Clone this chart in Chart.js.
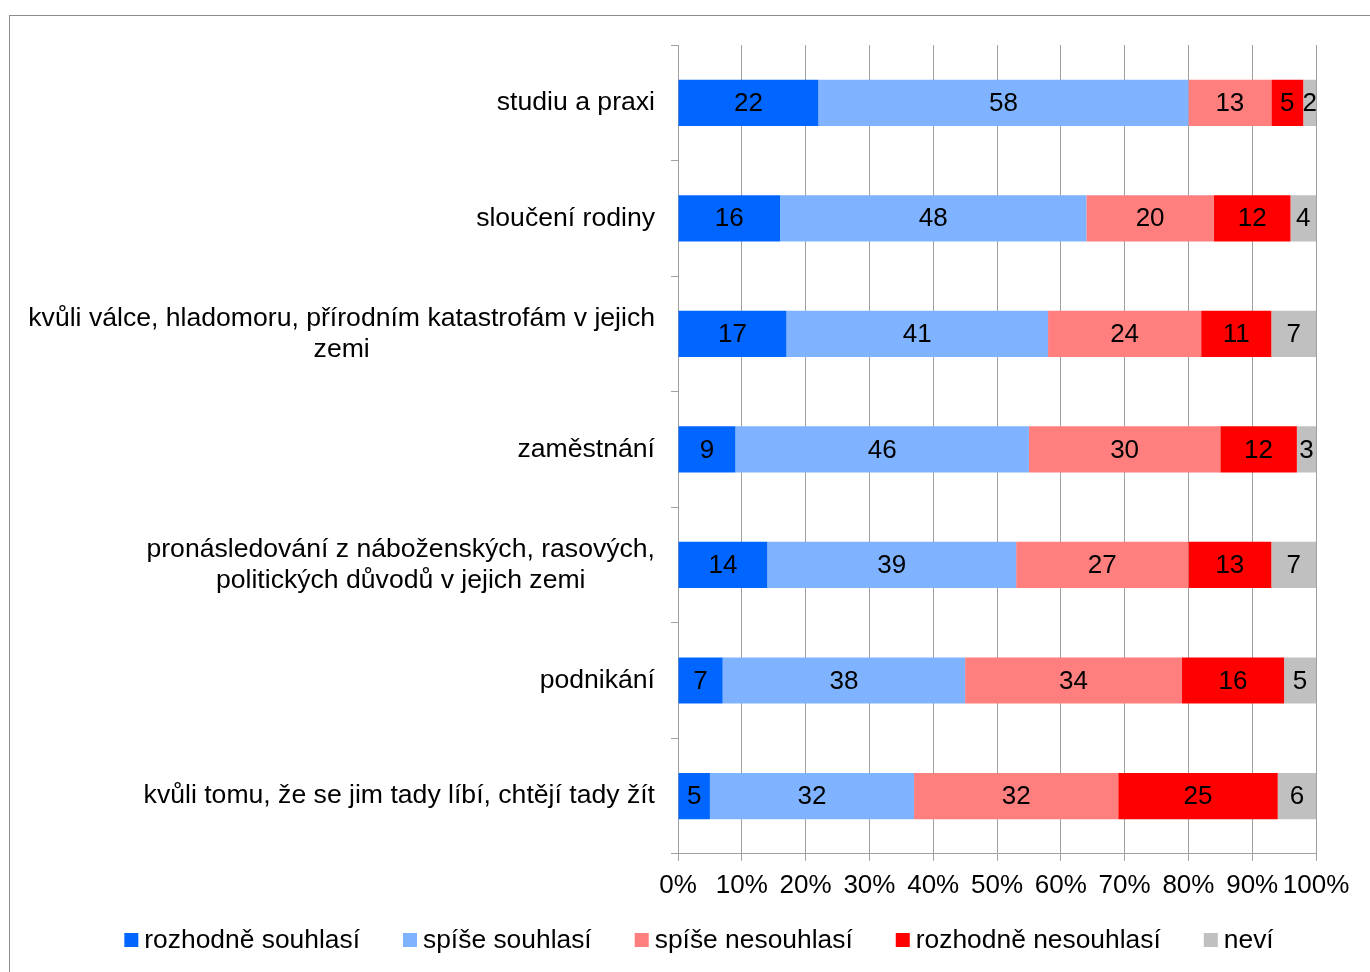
<!DOCTYPE html>
<html>
<head>
<meta charset="utf-8">
<script src="https://cdn.jsdelivr.net/npm/chart.js@4/dist/chart.umd.min.js"></script>
<style>
  html, body { margin: 0; padding: 0; background: #fff; overflow: hidden; }
  #wrap { position: relative; width: 1370px; height: 972px; }
  #frame { position: absolute; left: 9px; top: 15px; width: 1400px; height: 1000px; border: 1px solid #8c8c8c; }
  #c { position: absolute; left: 0; top: 0; }
</style>
</head>
<body>
<div id="wrap">
  <div id="frame"></div>
  <canvas id="c" width="1370" height="972"></canvas>
</div>
<script>
// categories, top to bottom
const categories = [
  ["studiu a praxi"],
  ["sloučení rodiny"],
  ["kvůli válce, hladomoru, přírodním katastrofám v jejich", "zemi"],
  ["zaměstnání"],
  ["pronásledování z náboženských, rasových,", "politických důvodů v jejich zemi"],
  ["podnikání"],
  ["kvůli tomu, že se jim tady líbí, chtějí tady žít"]
];
const seriesNames = ["rozhodně souhlasí", "spíše souhlasí", "spíše nesouhlasí", "rozhodně nesouhlasí", "neví"];
const rozhodneSouhlasi   = [22, 16, 17, 9, 14, 7, 5];
const spiseSouhlasi      = [58, 48, 41, 46, 39, 38, 32];
const spiseNesouhlasi    = [13, 20, 24, 30, 27, 34, 32];
const rozhodneNesouhlasi = [5, 12, 11, 12, 13, 16, 25];
const nevi               = [2, 4, 7, 3, 7, 5, 6];
const xTicks = [0, 10, 20, 30, 40, 50, 60, 70, 80, 90, 100];

const colors = ["#0066ff", "#80b3ff", "#ff7f7f", "#ff0000", "#c0c0c0"];
const FONT = '"Liberation Sans", Arial, sans-serif';
const gridColor = "#a0a0a0";

// value labels in the middle of every segment
const valueLabels = {
  id: "valueLabels",
  afterDatasetsDraw(chart){
    const ctx = chart.ctx;
    ctx.save();
    ctx.font = "26px " + FONT;
    ctx.fillStyle = "#000";
    ctx.textAlign = "center";
    ctx.textBaseline = "middle";
    chart.data.datasets.forEach((ds, di) => {
      const meta = chart.getDatasetMeta(di);
      meta.data.forEach((bar, i) => {
        const cx = (bar.x + bar.base) / 2;
        ctx.fillText(String(ds.data[i]), cx, bar.y + 1);
      });
    });
    ctx.restore();
  }
};

// category labels: right aligned block, lines centred inside it
const catLabels = {
  id: "catLabels",
  afterDraw(chart){
    const ctx = chart.ctx;
    const yScale = chart.scales.y;
    const rightEdge = yScale.right - 23;
    const lh = 31;
    ctx.save();
    ctx.font = "26.6px " + FONT;
    ctx.fillStyle = "#000";
    ctx.textAlign = "center";
    ctx.textBaseline = "middle";
    categories.forEach((lines, i) => {
      const y = yScale.getPixelForValue(i);
      const w = Math.max(...lines.map(l => ctx.measureText(l).width));
      const cx = rightEdge - w / 2;
      const y0 = y - (lines.length - 1) * lh / 2;
      lines.forEach((l, k) => ctx.fillText(l, cx, y0 + k * lh));
    });
    ctx.restore();
  }
};

// legend drawn by hand for the tight box/text spacing
const bottomLegend = {
  id: "bottomLegend",
  afterDraw(chart){
    const ctx = chart.ctx;
    const box = 14, gapText = 6, gapItem = 43;
    ctx.save();
    ctx.font = "26.4px " + FONT;
    ctx.textBaseline = "middle";
    ctx.textAlign = "left";
    const widths = seriesNames.map(n => box + gapText + ctx.measureText(n).width);
    const total = widths.reduce((a, b) => a + b, 0) + gapItem * (widths.length - 1);
    let x = 699 - total / 2;
    const y = 940;
    seriesNames.forEach((n, i) => {
      ctx.fillStyle = colors[i];
      ctx.fillRect(x, y - box / 2, box, box);
      ctx.fillStyle = "#000";
      ctx.fillText(n, x + box + gapText, y + 1);
      x += widths[i] + gapItem;
    });
    ctx.restore();
  }
};

const seriesData = [rozhodneSouhlasi, spiseSouhlasi, spiseNesouhlasi, rozhodneNesouhlasi, nevi];

const chart = new Chart(document.getElementById("c"), {
  type: "bar",
  data: {
    labels: categories.map(c => c.join(" ")),
    datasets: seriesNames.map((name, i) => ({
      label: name,
      data: seriesData[i],
      backgroundColor: colors[i],
      borderWidth: 0,
      categoryPercentage: 1,
      barPercentage: 0.4
    }))
  },
  options: {
    indexAxis: "y",
    responsive: false,
    animation: false,
    layout: { padding: { left: 82, right: 54, top: 45, bottom: 62 } },
    plugins: {
      legend: { display: false },
      tooltip: { enabled: false }
    },
    scales: {
      x: {
        stacked: true,
        min: 0,
        max: 100,
        afterBuildTicks(scale){ scale.ticks = xTicks.map(v => ({ value: v })); },
        ticks: {
          callback: v => v + "%",
          font: { family: FONT, size: 26 },
          color: "#000",
          padding: 9,
          maxRotation: 0,
          autoSkip: false
        },
        grid: { color: gridColor, tickLength: 7, lineWidth: 1 },
        border: { color: gridColor }
      },
      y: {
        stacked: true,
        ticks: { display: false },
        grid: { drawOnChartArea: false, color: gridColor, tickLength: 7, offset: true },
        border: { color: gridColor },
        afterFit(scale){ scale.width = 678 - 82; }
      }
    }
  },
  plugins: [valueLabels, catLabels, bottomLegend]
});
</script>
</body>
</html>
